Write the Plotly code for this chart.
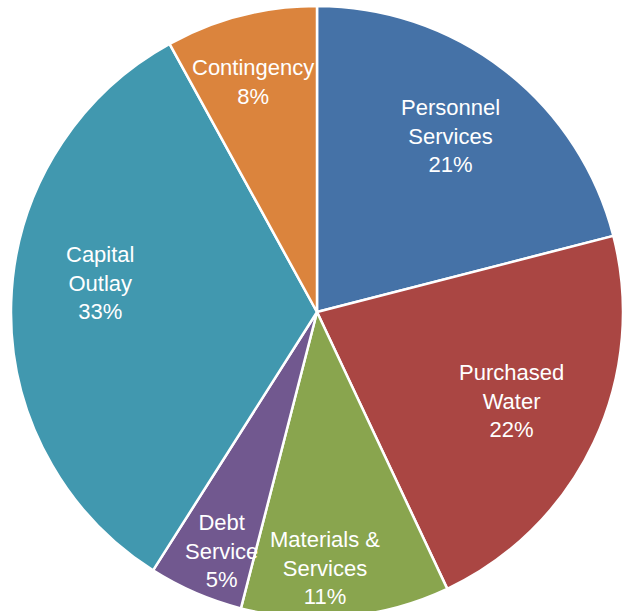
import math
import plotly.graph_objects as go

# Budget breakdown (percent of total)
categories = ["Personnel Services", "Purchased Water", "Materials & Services",
              "Debt Service", "Capital Outlay", "Contingency"]
label_lines = ["Personnel<br>Services", "Purchased<br>Water", "Materials &<br>Services",
               "Debt<br>Service", "Capital<br>Outlay", "Contingency"]
values = [21, 22, 11, 5, 33, 8]
colors = ["#4572A7", "#AA4643", "#89A54E", "#71588F", "#4198AF", "#DB843D"]

# Canvas / pie geometry in pixels
W, H = 629, 625
cx, cy, R = 317, 312, 306

# Label placement: fraction of radius along slice bisector, plus small angle nudge (deg)
label_rfrac = [0.724, 0.70, 0.837, 0.84, 0.716, 0.78]
label_dang = [-0.6, -0.7, 3.6, -1.6, 5.8, -1.1]

fig = go.Figure(go.Pie(
    labels=categories,
    values=values,
    sort=False,
    direction="clockwise",
    rotation=0,
    marker=dict(colors=colors, line=dict(color="white", width=2.5)),
    textinfo="none",
    hoverinfo="label+percent",
    showlegend=False,
    domain=dict(x=[(cx - R) / W, (cx + R) / W],
                y=[1 - (cy + R) / H, 1 - (cy - R) / H]),
))

total = sum(values)
cum = 0
annotations = []
for name, v, rf, da in zip(label_lines, values, label_rfrac, label_dang):
    mid = (cum + v / 2) / total * 360 + da
    cum += v
    r = rf * R
    px = cx + r * math.sin(math.radians(mid))
    py = cy - r * math.cos(math.radians(mid))
    pct = f"{v / total * 100:.0f}%"
    annotations.append(dict(
        x=px / W, y=1 - py / H, xref="paper", yref="paper",
        text=f"{name}<br>{pct}", showarrow=False,
        xanchor="center", yanchor="middle", align="center",
        font=dict(family="Liberation Sans, Arial, sans-serif", size=22, color="white"),
    ))

fig.update_layout(
    width=W, height=H,
    margin=dict(l=0, r=0, t=0, b=0),
    paper_bgcolor="white",
    plot_bgcolor="white",
    annotations=annotations,
)

fig.write_html(
    "out.html",
    post_script="document.body.style.overflow='hidden';document.documentElement.style.overflow='hidden';",
)
